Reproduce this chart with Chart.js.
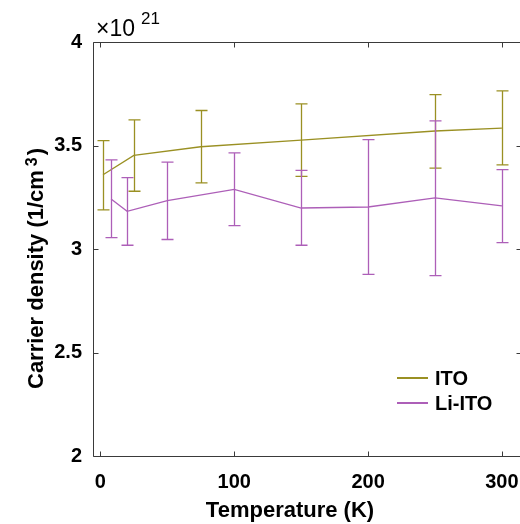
<!DOCTYPE html>
<html><head><meta charset="utf-8">
<script src="https://cdn.jsdelivr.net/npm/chart.js@4"></script>
<style>html,body{margin:0;padding:0;overflow:hidden;background:#fff;width:520px;height:524px}canvas{display:block}</style>
</head><body><canvas id="c" width="520" height="524"></canvas>
<script>
const itoT = [2, 25, 75, 150, 250, 300];
const itoN = [3.359, 3.452, 3.494, 3.526, 3.570, 3.584];
const itoLow = [3.189, 3.279, 3.319, 3.351, 3.391, 3.406];
const itoHigh = [3.524, 3.624, 3.669, 3.701, 3.746, 3.764];
const liT = [8, 20, 50, 100, 150, 200, 250, 300];
const liN = [3.242, 3.182, 3.234, 3.288, 3.198, 3.203, 3.247, 3.208];
const liLow = [3.055, 3.018, 3.046, 3.113, 3.018, 2.877, 2.871, 3.031];
const liHigh = [3.431, 3.345, 3.420, 3.464, 3.380, 3.528, 3.619, 3.383];
const xTicks = [0, 100, 200, 300];
const yTicks = [2, 2.5, 3, 3.5, 4];
const yTickLabels = ['2', '2.5', '3', '3.5', '4'];
const seriesNames = ['ITO', 'Li-ITO'];
const colors = ['#9a9023', '#ad5fb8'];

const pts = (xs, ys) => xs.map((x, i) => ({x, y: ys[i]}));
const errs = [[itoLow, itoHigh], [liLow, liHigh]];
const FAM = '"Liberation Sans", Arial, sans-serif';

const boxPlugin = {
  id: 'box',
  afterDraw(chart) {
    const ctx = chart.ctx, xs = chart.scales.x, ys = chart.scales.y, a = chart.chartArea;
    ctx.save();
    ctx.fillStyle = '#fff';
    ctx.fillRect(a.left + 2, 0, chart.width - a.left, a.top - 1);
    ctx.fillRect(chart.width - 4, a.top + 2, 4, a.bottom - a.top - 4);
    ctx.restore();
    chart.data.datasets.forEach((ds, di) => {
      const [lo, hi] = errs[di];
      ctx.save();
      ctx.strokeStyle = ds.borderColor; ctx.lineWidth = 1.3;
      ds.data.forEach((p, i) => {
        const px = Math.round(xs.getPixelForValue(p.x)) + 0.5;
        const y1 = ys.getPixelForValue(lo[i]), y2 = ys.getPixelForValue(hi[i]);
        ctx.beginPath();
        ctx.moveTo(px, y1); ctx.lineTo(px, y2);
        ctx.moveTo(px - 6, y1); ctx.lineTo(px + 6, y1);
        ctx.moveTo(px - 6, y2); ctx.lineTo(px + 6, y2);
        ctx.stroke();
      });
      ctx.restore();
    });
    ctx.save();
    ctx.strokeStyle = '#3a3a3a'; ctx.lineWidth = 1;
    ctx.beginPath();
    const L = Math.round(a.left) + 0.5, R = Math.round(a.right) + 0.5, T = Math.round(a.top) + 0.5, B = Math.round(a.bottom) + 0.5;
    ctx.moveTo(R, T); ctx.lineTo(L, T); ctx.lineTo(L, B); ctx.lineTo(R, B);
    xTicks.forEach(v => {
      const px = Math.round(xs.getPixelForValue(v)) + 0.5;
      ctx.moveTo(px, B); ctx.lineTo(px, B - 5);
      ctx.moveTo(px, T); ctx.lineTo(px, T + 5);
    });
    yTicks.forEach(v => {
      const py = Math.round(ys.getPixelForValue(v)) + 0.5;
      ctx.moveTo(L, py); ctx.lineTo(L + 5, py);
      ctx.moveTo(R, py); ctx.lineTo(R - 4, py);
    });
    ctx.stroke();
    ctx.font = 'bold 20px ' + FAM;
    ctx.textBaseline = 'middle'; ctx.fillStyle = '#000';
    chart.data.datasets.forEach((ds, di) => {
      const y = 378 + di * 25;
      ctx.strokeStyle = ds.borderColor; ctx.lineWidth = 2;
      ctx.beginPath(); ctx.moveTo(397, y); ctx.lineTo(428, y); ctx.stroke();
      ctx.fillText(ds.label, 435, y + 1);
    });
    ctx.textBaseline = 'alphabetic';
    ctx.font = '23px ' + FAM;
    ctx.fillText('\u00d710', 96, 36);
    ctx.font = '17px ' + FAM;
    ctx.fillText('21', 141, 24);
    ctx.font = 'bold 22px ' + FAM;
    ctx.textAlign = 'center';
    ctx.fillText('Temperature (K)', 290, 517);
    ctx.translate(43, 0); ctx.rotate(-Math.PI / 2);
    ctx.textAlign = 'left';
    const t1 = 'Carrier density (1/cm';
    const w1 = ctx.measureText(t1).width;
    const start = -389;
    ctx.fillText(t1, start, 0);
    ctx.font = 'bold 16px ' + FAM;
    ctx.fillText('3', start + w1 + 4, -6);
    const w3 = ctx.measureText('3').width;
    ctx.font = 'bold 22px ' + FAM;
    ctx.fillText(')', start + w1 + 4 + w3 + 2, 0);
    ctx.restore();
  }
};

new Chart(document.getElementById('c'), {
  type: 'line',
  data: {
    datasets: [
      {label: seriesNames[0], data: pts(itoT, itoN), borderColor: colors[0], borderWidth: 1.3, pointRadius: 0, fill: false, tension: 0},
      {label: seriesNames[1], data: pts(liT, liN), borderColor: colors[1], borderWidth: 1.3, pointRadius: 0, fill: false, tension: 0}
    ]
  },
  options: {
    responsive: false, animation: false, devicePixelRatio: 1,
    layout: {padding: {top: 42, right: 0, left: 0, bottom: 0}},
    plugins: {legend: {display: false}, tooltip: {enabled: false}},
    scales: {
      x: {
        type: 'linear', min: -5.5, max: 313.5,
        afterFit: s => { s.height = 68; s.paddingLeft = 0; s.paddingRight = 0; },
        afterBuildTicks: s => { s.ticks = xTicks.map(v => ({value: v})); },
        grid: {display: false, drawTicks: false},
        border: {display: false},
        ticks: {color: '#000', padding: 14, maxRotation: 0, font: {family: FAM, size: 20, weight: 'bold'}}
      },
      y: {
        type: 'linear', min: 2, max: 4,
        afterFit: s => { s.width = 93; s.paddingTop = 0; s.paddingBottom = 0; },
        afterBuildTicks: s => { s.ticks = yTicks.map(v => ({value: v})); },
        grid: {display: false, drawTicks: false},
        border: {display: false},
        ticks: {color: '#000', padding: 11, callback: (v) => yTickLabels[yTicks.indexOf(v)] ?? '', font: {family: FAM, size: 20, weight: 'bold'}}
      }
    }
  },
  plugins: [boxPlugin]
});
</script></body></html>
